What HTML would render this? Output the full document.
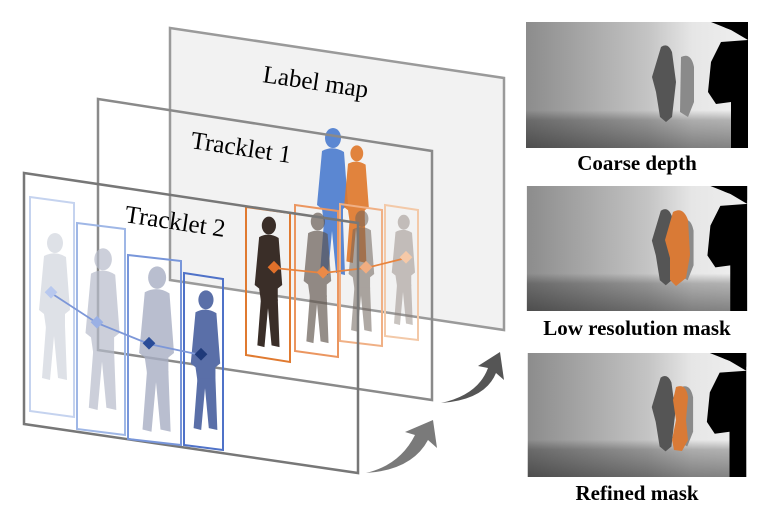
<!DOCTYPE html>
<html><head><style>
html,body{margin:0;padding:0;background:#fff;}
body{width:773px;height:515px;overflow:hidden;position:relative;}
svg{position:absolute;left:0;top:0;}
.lbl{font-family:"Liberation Serif",serif;font-weight:bold;font-size:21px;fill:#000;}
.pl{font-family:"Liberation Serif",serif;font-size:25px;fill:#000;}
</style></head><body>
<svg width="773" height="515" viewBox="0 0 773 515">
<defs>
<symbol id="p" viewBox="0 0 40 160">
  <ellipse cx="21" cy="13" rx="8" ry="10"/>
  <path d="M10 26 Q21 20 32 27 L36 80 L31 84 L31 98 L12 98 L10 84 L5 80 Z"/>
  <path d="M12 96 L8 148 L16 150 L20 106 L24 148 L33 150 L31 96 Z"/>
</symbol>
<linearGradient id="dg" x1="0" x2="1" y1="0" y2="0">
  <stop offset="0" stop-color="#8c8c8c"/><stop offset="0.55" stop-color="#c4c4c4"/><stop offset="0.75" stop-color="#e6e6e6"/><stop offset="1" stop-color="#efefef"/>
</linearGradient>
<linearGradient id="bg2" x1="0" x2="0" y1="0" y2="1">
  <stop offset="0" stop-color="#000" stop-opacity="0"/><stop offset="0.7" stop-color="#000" stop-opacity="0"/><stop offset="0.78" stop-color="#000" stop-opacity="0.25"/><stop offset="1" stop-color="#000" stop-opacity="0.45"/>
</linearGradient>
<symbol id="depth" viewBox="0 0 222 126">
  <rect width="222" height="126" fill="url(#dg)"/>
  <rect width="222" height="126" fill="url(#bg2)"/>
  <path d="M185 0 L222 0 L222 126 L205 126 L205 80 L190 82 L182 70 L185 40 L195 20 L222 18 L205 8 Z" fill="#000"/>
  <path d="M188 0 L222 0 L222 14 L200 6 Z" fill="#000"/>
  <path d="M135 25 Q142 20 146 30 L150 60 L146 95 L140 100 L134 95 L130 70 L126 55 Z" fill="#555"/>
  <path d="M155 35 Q165 30 168 45 L168 80 L162 95 L154 90 Z" fill="#8a8a8a"/>
</symbol>
</defs>

<!-- Label map plane -->
<polygon points="170,28 504,78 504,330 170,280" fill="#f2f2f2" stroke="#9a9a9a" stroke-width="2.5"/>
<text class="pl" transform="translate(262,82) rotate(8.5)">Label map</text>
<!-- label map people -->
<use href="#p" x="312" y="120" width="40" height="170" fill="#5b87d2"/>
<use href="#p" x="340" y="142" width="32" height="130" fill="#e0782a" opacity="0.9"/>

<!-- Tracklet 1 plane -->
<polygon points="98,99 432,151 432,400 98,350" fill="none" stroke="#8a8a8a" stroke-width="2.5"/>
<text class="pl" transform="translate(190,148) rotate(8.5)">Tracklet 1</text>
<!-- orange boxes -->
<g fill="none" stroke-width="2">
<polygon points="385,205 418,210 418,340 385,336" stroke="#f3c9a8"/>
<polygon points="340,204 382,210 382,346 340,341" stroke="#f0b085"/>
<polygon points="295,205 338,211 338,357 295,351" stroke="#eb9660"/>
<polygon points="246,207 290,213 290,362 246,355" stroke="#e07a30"/>
</g>
<use href="#p" x="388" y="210" width="30" height="125" fill="#8a7d75" opacity="0.45"/>
<use href="#p" x="343" y="208" width="36" height="132" fill="#6f635b" opacity="0.55"/>
<use href="#p" x="298" y="210" width="38" height="142" fill="#5e524a" opacity="0.65"/>
<use href="#p" x="248" y="214" width="40" height="142" fill="#3a2e28"/>
<polyline points="274,268 323,273 366,268 406,258" fill="none" stroke="#e8843e" stroke-width="1.8"/>
<g stroke="none">
<rect x="269" y="263" width="9" height="9" fill="#e0702a" transform="rotate(45 274 268)"/>
<rect x="318" y="268" width="9" height="9" fill="#eb8a48" transform="rotate(45 323 273)"/>
<rect x="361" y="263" width="9" height="9" fill="#f2ad80" transform="rotate(45 366 268)"/>
<rect x="401" y="253" width="9" height="9" fill="#f6c9a8" transform="rotate(45 406 258)"/>
</g>

<!-- Tracklet 2 plane -->
<polygon points="24,173 358,223 358,473 24,424" fill="none" stroke="#777" stroke-width="2.5"/>
<text class="pl" transform="translate(124,222) rotate(8.5)">Tracklet 2</text>
<g fill="none" stroke-width="2">
<polygon points="30,197 74,203 74,417 30,411" stroke="#c5d3ef"/>
<polygon points="77,223 125,229 125,435 77,429" stroke="#9fb7e6"/>
<polygon points="128,255 181,261 181,445 128,439" stroke="#7896da"/>
<polygon points="184,273 223,279 223,450 184,445" stroke="#4f72c8"/>
</g>
<use href="#p" x="34" y="205" width="40" height="210" fill="#c9ced8" opacity="0.6"/>
<use href="#p" x="80" y="233" width="44" height="200" fill="#b7bccb" opacity="0.7"/>
<use href="#p" x="132" y="263" width="48" height="180" fill="#a8afc4" opacity="0.8"/>
<use href="#p" x="186" y="281" width="38" height="165" fill="#5a6fa8"/>
<polyline points="51,293 97,323 149,344 201,355" fill="none" stroke="#7d97d8" stroke-width="1.8"/>
<rect x="46" y="288" width="9" height="9" fill="#b8c8ee" transform="rotate(45 51 293)"/>
<rect x="92" y="318" width="9" height="9" fill="#9ab0e4" transform="rotate(45 97 323)"/>
<rect x="144" y="339" width="9" height="9" fill="#2a4c98" transform="rotate(45 149 344)"/>
<rect x="196" y="350" width="9" height="9" fill="#1f3a7a" transform="rotate(45 201 355)"/>

<!-- arrows -->
<path d="M366 473 Q400 465 415 435 L405 432 L433 420 L437 448 L428 440 Q412 470 366 473 Z" fill="#7a7a7a"/>
<path d="M441 403 Q478 395 488 368 L478 366 L500 352 L504 380 L496 373 Q485 400 441 403 Z" fill="#555"/>

<!-- depth images -->
<use href="#depth" x="526" y="22" width="222" height="126"/>
<text class="lbl" x="637" y="170" text-anchor="middle">Coarse depth</text>
<use href="#depth" x="526" y="186" width="222" height="125"/>
<path d="M673 212 Q683 206 688 220 L690 255 L686 278 L676 286 L670 280 L670 258 L665 240 Z" fill="#d97a36"/>
<text class="lbl" x="637" y="335" text-anchor="middle">Low resolution mask</text>
<use href="#depth" x="526" y="353" width="222" height="124"/>
<path d="M676 387 Q686 383 688 397 L686 420 L688 440 L682 451 L674 450 L672 440 L676 420 L673 400 Z" fill="#d97a36"/>
<text class="lbl" x="637" y="500" text-anchor="middle">Refined mask</text>
</svg>
</body></html>
